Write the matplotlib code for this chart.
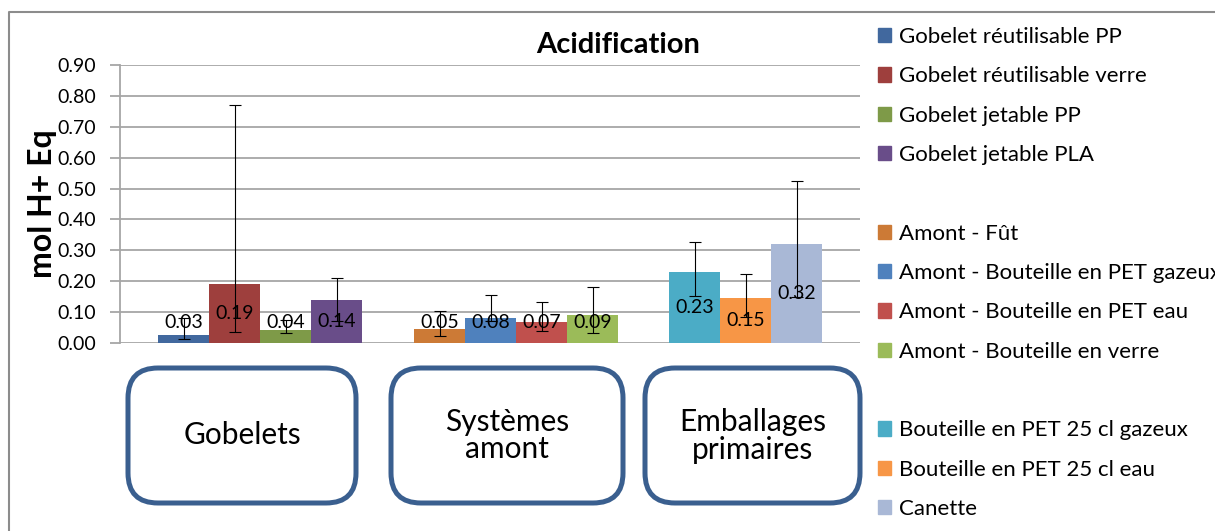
import matplotlib.pyplot as plt
import numpy as np
from matplotlib.patches import FancyBboxPatch, Patch

plt.rcParams["font.family"] = ["Lato", "DejaVu Sans"]

# data
GROUPS = ["Gobelets", "Systèmes\namont", "Emballages\nprimaires"]
SERIES = [
    ["Gobelet réutilisable PP", "Gobelet réutilisable verre",
     "Gobelet jetable PP", "Gobelet jetable PLA"],
    ["Amont - Fût", "Amont - Bouteille en PET gazeux",
     "Amont - Bouteille en PET eau", "Amont - Bouteille en verre"],
    ["Bouteille en PET 25 cl gazeux", "Bouteille en PET 25 cl eau", "Canette"],
]
VALUES = [
    [0.026, 0.191, 0.042, 0.138],
    [0.046, 0.080, 0.067, 0.091],
    [0.231, 0.147, 0.319],
]
ERR_LOW = [
    [0.012, 0.035, 0.033, 0.070],
    [0.024, 0.070, 0.040, 0.033],
    [0.152, 0.085, 0.150],
]
ERR_HIGH = [
    [0.080, 0.769, 0.075, 0.209],
    [0.104, 0.155, 0.133, 0.180],
    [0.328, 0.222, 0.524],
]
COLORS = [
    ["#41689E", "#9E3F3D", "#7E9A48", "#694D89"],
    ["#CC7A36", "#4F81BD", "#C0504D", "#9BBB59"],
    ["#4BACC6", "#F79646", "#A9B8D6"],
]
YTICKS = np.arange(0, 0.91, 0.1)

# layout (pixels of a 1215x531 canvas)
W, H = 1215, 531
GROUP_LEFT = [0.154, 1.192, 2.226]   # category units
BAR_W = 0.207
LABEL_MIN_Y = 0.065
BOXES = [(128, 356), (391, 623), (645, 860)]
BOX_TOP, BOX_BOTTOM = 368, 503
BOX_EDGE = "#3A5F8F"
GRID = "#A6A6A6"

fig = plt.figure(figsize=(W / 100, H / 100), dpi=100)
ax = fig.add_axes([120 / W, 1 - 343 / H, 740 / W, 278 / H])

handles = []
for g, names in enumerate(SERIES):
    for i, name in enumerate(names):
        v = VALUES[g][i]
        x = GROUP_LEFT[g] + (i + 0.5) * BAR_W
        lo, hi = ERR_LOW[g][i], ERR_HIGH[g][i]
        ax.bar(x, v, BAR_W, color=COLORS[g][i], zorder=3,
               yerr=[[v - lo], [hi - v]],
               error_kw=dict(ecolor="black", elinewidth=0.8, capsize=4,
                             capthick=0.8, zorder=4))
        ax.text(x, max(v / 2, LABEL_MIN_Y), f"{v:.2f}", ha="center",
                va="center", fontsize=14, zorder=5)
        handles.append(Patch(color=COLORS[g][i], label=name))
    if g < len(SERIES) - 1:
        handles.append(Patch(color="none", label=" "))

ax.set_xlim(0, 3)
ax.set_ylim(0, 0.9)
ax.set_yticks(YTICKS)
ax.set_yticklabels([f"{t:.2f}" for t in YTICKS], fontsize=14)
ax.set_xticks([])
ax.yaxis.grid(True, color=GRID, lw=1.3)
ax.set_axisbelow(True)
for side in ("top", "right", "bottom"):
    ax.spines[side].set_visible(False)
ax.spines["left"].set_color(GRID)
ax.spines["left"].set_linewidth(1.3)
ax.tick_params(axis="y", length=7, color=GRID, width=1.3, pad=10)

fig.text(618 / W, 1 - 45 / H, "Acidification", fontsize=21,
         fontweight="bold", ha="center", va="center")
fig.text(43 / W, 1 - 204 / H, "mol H+ Eq", fontsize=23, fontweight="bold",
         rotation=90, ha="center", va="center")

fig.legend(handles=handles, loc="upper left",
           bbox_to_anchor=(878 / W, 1 - 27 / H), frameon=False,
           fontsize=16, handlelength=0.6, handleheight=0.6,
           handletextpad=0.33, labelspacing=0.87, borderpad=0,
           borderaxespad=0)

# frame and category boxes drawn in pixel coordinates
over = fig.add_axes([0, 0, 1, 1], zorder=-1)
over.set_xlim(0, W)
over.set_ylim(H, 0)
over.axis("off")
over.plot([9, 9, W + 5], [H + 5, 12, 12], color="#8C8C8C", lw=1.5)
for (x0, x1), name in zip(BOXES, GROUPS):
    over.add_patch(FancyBboxPatch(
        (x0, BOX_TOP), x1 - x0, BOX_BOTTOM - BOX_TOP,
        boxstyle="round,pad=0,rounding_size=30",
        facecolor="white", edgecolor=BOX_EDGE, lw=3.6))
    over.text((x0 + x1) / 2, (BOX_TOP + BOX_BOTTOM) / 2, name, fontsize=21.5,
              ha="center", va="center", linespacing=1.0)

fig.savefig("out.png", dpi=100)
